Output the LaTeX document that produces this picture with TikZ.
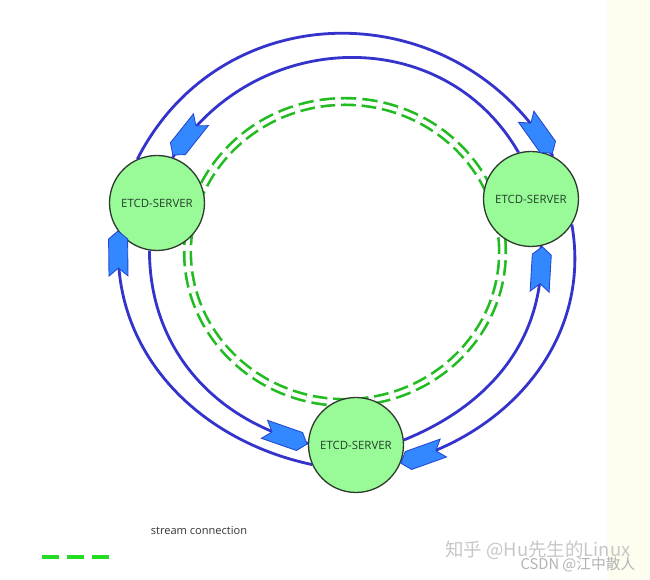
\documentclass[tikz,border=0pt]{standalone}
\usepackage{fontspec}
\setmainfont{Open Sans}
\newfontfamily\cjkfont{Noto Sans CJK SC}
\usetikzlibrary{shapes.symbols}
\definecolor{serverfill}{HTML}{98FB98}
\definecolor{serverline}{HTML}{2E3B2E}
\definecolor{servertext}{HTML}{23402A}
\definecolor{flowblue}{HTML}{3434CC}
\definecolor{chevfill}{HTML}{3388FF}
\definecolor{chevline}{HTML}{2448D0}
\definecolor{ringgreen}{HTML}{22BB22}
\definecolor{keygreen}{HTML}{22DD22}
\definecolor{stripfill}{HTML}{FEFEF0}
\tikzset{
  server/.style={circle, draw=serverline, fill=serverfill, line width=0.75pt,
    minimum size=1.9cm, inner sep=0pt, text=servertext,
    font=\fontsize{6.5}{7.5}\selectfont},
  flow/.style={draw=flowblue, line width=1.6pt},
  chev/.style={shape=signal, signal to=east, signal from=west,
    signal pointer angle=100,
    draw=chevline, fill=chevfill, line width=0.5pt,
    minimum width=0.9cm, minimum height=0.38cm, inner sep=0pt,
    sloped, allow upside down},
  stream/.style={draw=ringgreen, line width=1.5pt, double=white,
    double distance=0.08cm, dash pattern=on 0.3cm off 0.12cm},
}
\begin{document}
\begin{tikzpicture}[x=0.02cm, y=0.02cm]
  \useasboundingbox (0,0) rectangle (650,580);
  \fill[stripfill] (607,0) rectangle (650,580);
  \draw[stream] (345,328) ellipse [x radius=157.5, y radius=150.5];
  \node[server] (L) at (157,377) {ETCD-SERVER};
  \node[server] (R) at (531,381) {ETCD-SERVER};
  \node[server] (B) at (356,135) {ETCD-SERVER};
  \begin{scope}[flow]
    \draw (L.114) to[out=63, in=120, looseness=1.16] node[chev, pos=.955] {} (R.63);
    \draw (R.105) to[out=120, in=58, looseness=1.12] node[chev, pos=.945] {} (L.71);
    \draw (R.-32) to[out=-80, in=15] node[chev, pos=.935] {} (B.-21);
    \draw (B.6) to[out=22, in=-87] node[chev, pos=.915] {} (R.-78);
    \draw (L.-99) to[out=-90, in=166] node[chev, pos=.92] {} (B.178);
    \draw (B.-156) to[out=168, in=-95] node[chev, pos=.94] {} (L.-142);
  \end{scope}
  \node[text=black!80, font=\fontsize{6.3}{7.5}\selectfont] (key) at (199,49) {stream connection};
  \draw[keygreen, line width=2.3pt, dash pattern=on 0.34cm off 0.16cm] (42,23) -- (110,23);
  \node[text=black!22, font=\cjkfont\fontsize{10.5}{12}\selectfont] (zhihu) at (538,30) {知乎 @Hu先生的Linux};
  \node[text=black!30, font=\cjkfont\fontsize{8.4}{10}\selectfont] (csdn) at (578,15) {CSDN @江中散人};
\end{tikzpicture}
\end{document}
